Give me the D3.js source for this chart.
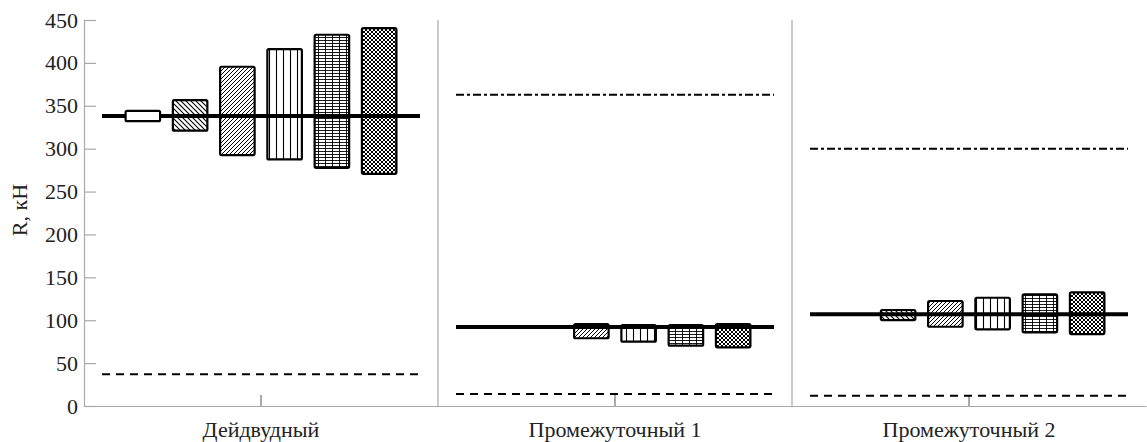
<!DOCTYPE html>
<html>
<head>
<meta charset="utf-8">
<script src="https://cdn.jsdelivr.net/npm/d3@7"></script>
<style>
  body { margin: 0; background: #fff; }
  svg text { font-family: "Liberation Serif", "Times New Roman", "DejaVu Serif", serif !important; fill: #222; }
</style>
</head>
<body>
<svg id="chart" width="1147" height="442"></svg>
<script>
// categories and values
const categories = ["Дейдвудный", "Промежуточный 1", "Промежуточный 2"];
const meanLoad   = [338, 92, 107];     // thick solid line
const lowerLimit = [37, 14, 12];       // dashed line
const upperLimit = [null, 363, 300];   // dash-dot line
// six boxes per bearing (null = not visible)
const boxLow  = [
  [332, 321, 292.5, 287.5, 277.7, 270.7],
  [null, null, 79, 75, 70.3, 68.4],
  [null, 100.2, 92.4, 89.4, 85.9, 83.9]
];
const boxHigh = [
  [344, 356.6, 395.5, 416, 432.8, 440.6],
  [null, null, 95.6, 94.4, 94.4, 95.6],
  [null, 111.9, 122.4, 126.2, 130.2, 132.5]
];
const yTicks = [0, 50, 100, 150, 200, 250, 300, 350, 400, 450];
const patterns = ["none", "hatchBack", "hatchFwd", "vert", "grid", "cross"];

const svg = d3.select("#chart");
const mLeft = 84, mRight = 1146, mTop = 20, mBottom = 406;
const axisColor = "#a8a8a8";

let y = d3.scaleLinear().domain([0, 450]).range([mBottom, mTop]);
let x = d3.scaleBand().domain(categories).range([mLeft, mRight]);
let xi = d3.scaleBand().domain(d3.range(6)).range([0, x.bandwidth()])
    .paddingInner(0.27).paddingOuter(0.88);

// hatch patterns (transparent background, so the mean line shows through)
const defs = svg.append("defs");
function pat(id, size, d, w) {
  defs.append("pattern").attr("id", id)
    .attr("patternUnits", "userSpaceOnUse")
    .attr("width", size[0]).attr("height", size[1])
    .append("path").attr("d", d)
    .attr("stroke", "#000").attr("stroke-width", w).attr("fill", "none");
}
pat("hatchBack", [5, 5], "M0,0L5,5M-1,4L1,6M4,-1L6,1", 1.1);
pat("hatchFwd", [4, 4], "M0,4L4,0M-1,1L1,-1M3,5L5,3", 1);
pat("vert", [7, 10], "M3.5,0V10", 1.1);
pat("grid", [7, 3], "M0,1.5H7M3.5,0V3", 0.9);
pat("cross", [4, 4], "M0,0L4,4M0,4L4,0", 1);

// panel separators
categories.slice(1).forEach(c => {
  svg.append("line")
    .attr("x1", x(c)).attr("x2", x(c))
    .attr("y1", mTop).attr("y2", mBottom)
    .attr("stroke", axisColor).attr("stroke-width", 1.2);
});

// y axis
let yAxis = svg.append("g")
  .attr("transform", `translate(${mLeft},0)`)
  .call(d3.axisRight(y).tickValues(yTicks).tickSize(12).tickFormat(d3.format("d")));
yAxis.select(".domain").attr("stroke", axisColor).attr("stroke-width", 1.2);
yAxis.selectAll(".tick line").attr("stroke", axisColor).attr("stroke-width", 1.2);
yAxis.selectAll(".tick text")
  .attr("x", -6).attr("text-anchor", "end")
  .attr("font-size", 22);

// x axis
let xAxis = svg.append("g")
  .attr("transform", `translate(0,${mBottom})`)
  .call(d3.axisTop(x).tickSize(11).tickSizeOuter(0));
xAxis.select(".domain").attr("stroke", axisColor).attr("stroke-width", 1.2);
xAxis.selectAll(".tick line").attr("stroke", "#555").attr("stroke-width", 1);
xAxis.selectAll(".tick text")
  .attr("y", 31).attr("font-size", 22);

// y title
svg.append("text")
  .attr("transform", "translate(27,210) rotate(-90)")
  .attr("text-anchor", "middle")
  .attr("font-size", 22)
  .text("R, кН");

// per-panel marks
categories.forEach((c, k) => {
  let x0 = x(c) + 18, x1 = x(c) + x.bandwidth() - 18;

  svg.append("line")
    .attr("x1", x0).attr("x2", x1)
    .attr("y1", y(lowerLimit[k])).attr("y2", y(lowerLimit[k]))
    .attr("stroke", "#000").attr("stroke-width", 2)
    .attr("stroke-dasharray", "8,6");

  if (upperLimit[k] != null) {
    svg.append("line")
      .attr("x1", x0).attr("x2", x1)
      .attr("y1", y(upperLimit[k])).attr("y2", y(upperLimit[k]))
      .attr("stroke", "#000").attr("stroke-width", 2)
      .attr("stroke-dasharray", "8,3,3,3");
  }

  svg.append("line")
    .attr("x1", x0).attr("x2", x1)
    .attr("y1", y(meanLoad[k])).attr("y2", y(meanLoad[k]))
    .attr("stroke", "#000").attr("stroke-width", 4);

  d3.range(6).forEach(i => {
    if (boxLow[k][i] == null) return;
    svg.append("rect")
      .attr("x", x(c) + xi(i))
      .attr("y", y(boxHigh[k][i]))
      .attr("width", xi.bandwidth())
      .attr("height", y(boxLow[k][i]) - y(boxHigh[k][i]))
      .attr("rx", 1.5)
      .attr("fill", patterns[i] === "none" ? "#fff" : `url(#${patterns[i]})`)
      .attr("stroke", "#000").attr("stroke-width", 2.2);
  });
});
</script>
</body>
</html>
